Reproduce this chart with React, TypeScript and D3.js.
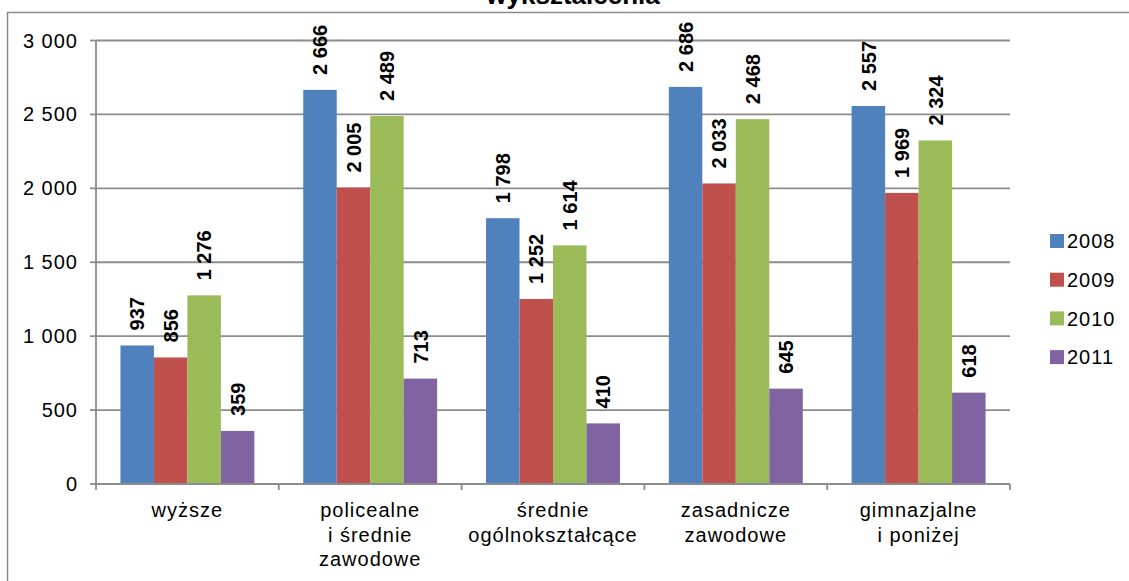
import React from "react";
import * as d3 from "d3";

const categories: string[][] = [
  ["wyższe"],
  ["policealne", "i średnie", "zawodowe"],
  ["średnie", "ogólnokształcące"],
  ["zasadnicze", "zawodowe"],
  ["gimnazjalne", "i poniżej"],
];
const seriesNames = ["2008", "2009", "2010", "2011"];
const v2008 = [937, 2666, 1798, 2686, 2557];
const v2009 = [856, 2005, 1252, 2033, 1969];
const v2010 = [1276, 2489, 1614, 2468, 2324];
const v2011 = [359, 713, 410, 645, 618];
const seriesValues = [v2008, v2009, v2010, v2011];
const yTicks = [0, 500, 1000, 1500, 2000, 2500, 3000];
const colors = ["#4F81BD", "#C0504D", "#9BBB59", "#8064A2"];
const title = "wykształcenia";

const fmt = (v: number) => {
  const s = String(v);
  if (v >= 1000) return s.slice(0, s.length - 3) + "\u00A0" + s.slice(-3);
  return s;
};

export default function App() {
  const W = 1129, H = 581;
  const left = 96, right = 1010, top = 40.5, bottom = 484;
  const font = "'Liberation Sans', Arial, sans-serif";
  const idx = categories.map((_, i) => String(i));
  const x0 = d3.scaleBand<string>().domain(idx).range([left, right]).padding(0);
  const x1 = d3.scaleBand<string>().domain(seriesNames).range([0, x0.bandwidth()]).paddingInner(0).paddingOuter(0.73);
  const y = d3.scaleLinear().domain([0, 3000]).range([bottom, top]);
  const grid = "#8c8c8c";

  return (
    <svg width={W} height={H} style={{ position: "absolute", left: 0, top: 0, background: "#fff" }} fontFamily={font}>
      <rect x={7.5} y={12.5} width={1300} height={800} fill="#fff" stroke="#8a8a8a" strokeWidth={1.5} />
      <text x={573} y={3.5} textAnchor="middle" fontSize={26} fontWeight="bold" fill="#000">{title}</text>
      {yTicks.map((t) => (
        <g key={t}>
          {t > 0 && <line x1={left} x2={right} y1={y(t)} y2={y(t)} stroke={grid} strokeWidth={1.8} />}
          <line x1={left - 6} x2={left} y1={y(t)} y2={y(t)} stroke={grid} strokeWidth={1.8} />
          <text x={78} y={y(t)} dy="0.35em" textAnchor="end" fontSize={20} letterSpacing={1} fill="#000">{fmt(t)}</text>
        </g>
      ))}
      {seriesValues.map((vals, si) =>
        vals.map((v, ci) => {
          const bx = (x0(String(ci)) as number) + (x1(seriesNames[si]) as number);
          return (
            <rect key={`b${si}-${ci}`} x={bx} y={y(v)} width={x1.bandwidth()} height={bottom - y(v)} fill={colors[si]} />
          );
        })
      )}
      <line x1={left} x2={left} y1={top} y2={bottom} stroke={grid} strokeWidth={1.8} />
      <line x1={left} x2={right} y1={bottom} y2={bottom} stroke={grid} strokeWidth={1.8} />
      {d3.range(categories.length + 1).map((i) => {
        const xx = left + i * x0.step();
        return <line key={`t${i}`} x1={xx} x2={xx} y1={bottom} y2={bottom + 6} stroke={grid} strokeWidth={1.8} />;
      })}
      {seriesValues.map((vals, si) =>
        vals.map((v, ci) => {
          const cx = (x0(String(ci)) as number) + (x1(seriesNames[si]) as number) + x1.bandwidth() / 2;
          const ty = y(v) - 15;
          return (
            <text key={`l${si}-${ci}`} transform={`translate(${cx},${ty}) rotate(-90)`} dy="0.36em" fontSize={20} fontWeight="bold" fill="#000">
              {fmt(v)}
            </text>
          );
        })
      )}
      {categories.map((lines, ci) => {
        const cx = (x0(String(ci)) as number) + x0.bandwidth() / 2;
        return (
          <text key={`c${ci}`} x={cx} y={517} textAnchor="middle" fontSize={20} letterSpacing={1} fill="#000">
            {lines.map((ln, li) => (
              <tspan key={li} x={cx} y={517 + li * 24.5}>{ln}</tspan>
            ))}
          </text>
        );
      })}
      {seriesNames.map((s, si) => {
        const cy = 241 + si * 38.7;
        return (
          <g key={`lg${si}`}>
            <rect x={1050} y={cy - 7} width={14} height={14} fill={colors[si]} />
            <text x={1067} y={cy} dy="0.36em" fontSize={20} letterSpacing={1} fill="#000">{s}</text>
          </g>
        );
      })}
    </svg>
  );
}
